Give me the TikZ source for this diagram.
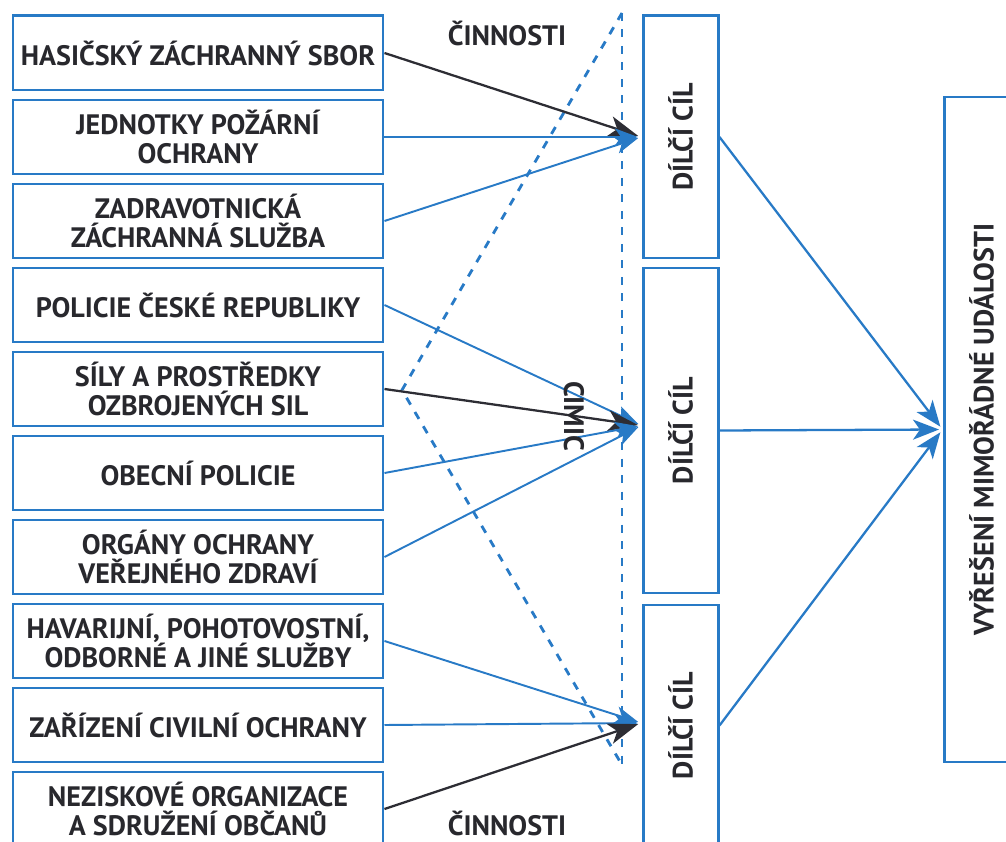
\documentclass[tikz,border=0pt]{standalone}
\usepackage{fontspec}
\setmainfont{PT Sans}
\usetikzlibrary{arrows.meta,positioning}
\definecolor{BoxBlue}{RGB}{40,122,198}
\definecolor{ArrDark}{RGB}{45,45,52}
\definecolor{TxtDark}{RGB}{40,40,45}
\begin{document}
\begin{tikzpicture}[
  org/.style={draw=BoxBlue,fill=white,line width=1.7pt,minimum width=7.4cm,minimum height=1.48cm,
              inner sep=0pt,align=center,text=TxtDark,font=\bfseries\fontsize{16}{16.5}\selectfont},
  goal/.style={draw=BoxBlue,fill=white,line width=1.7pt,minimum width=1.5cm,
               inner sep=0pt,text=TxtDark,font=\bfseries\fontsize{16}{16.5}\selectfont},
  lbl/.style={text=TxtDark,font=\bfseries\fontsize{16}{16.5}\selectfont},
  arr/.style={-{Stealth[length=0.46cm,width=0.34cm,inset=0.12cm]},line width=1.1pt,BoxBlue,shorten >=2pt},
  arrk/.style={-{Stealth[length=0.6cm,width=0.42cm,inset=0.16cm]},line width=1.3pt,ArrDark,shorten >=2pt},
  big/.style={-{Stealth[length=0.52cm,width=0.4cm,inset=0.14cm]},line width=1.3pt,BoxBlue,shorten >=2pt},
  guide/.style={BoxBlue,line width=1.6pt,dash pattern=on 0.16cm off 0.17cm},
]
\useasboundingbox (0,0) rectangle (20.12,-16.84);
\node[org] (hzs)  at (3.96,-1.06)  {HASIČSKÝ ZÁCHRANNÝ SBOR};
\node[org] (jpo)  at (3.96,-2.74)  {JEDNOTKY POŽÁRNÍ\\OCHRANY};
\node[org] (zzs)  at (3.96,-4.42)  {ZADRAVOTNICKÁ\\ZÁCHRANNÁ SLUŽBA};
\node[org] (pcr)  at (3.96,-6.10)  {POLICIE ČESKÉ REPUBLIKY};
\node[org] (ozb)  at (3.96,-7.78)  {SÍLY A PROSTŘEDKY\\OZBROJENÝCH SIL};
\node[org] (obp)  at (3.96,-9.46)  {OBECNÍ POLICIE};
\node[org] (oovz) at (3.96,-11.14) {ORGÁNY OCHRANY\\VEŘEJNÉHO ZDRAVÍ};
\node[org] (havs) at (3.96,-12.82) {HAVARIJNÍ, POHOTOVOSTNÍ,\\ODBORNÉ A JINÉ SLUŽBY};
\node[org] (zco)  at (3.96,-14.50) {ZAŘÍZENÍ CIVILNÍ OCHRANY};
\node[org] (nno)  at (3.96,-16.18) {NEZISKOVÉ ORGANIZACE\\A SDRUŽENÍ OBČANŮ};
\node[goal,minimum height=4.84cm] (cilA) at (13.61,-2.74)  {\rotatebox{90}{DÍLČÍ CÍL}};
\node[goal,minimum height=6.50cm] (cilB) at (13.61,-8.61)  {\rotatebox{90}{DÍLČÍ CÍL}};
\node[goal,minimum height=4.82cm] (cilC) at (13.61,-14.51) {\rotatebox{90}{DÍLČÍ CÍL}};
\node[goal,minimum height=13.3cm] (res)  at (19.63,-8.59)  {\rotatebox{90}{VYŘEŠENÍ MIMOŘÁDNÉ UDÁLOSTI}};
\coordinate (gtop) at (12.44,-0.26);
\coordinate (gmid) at (8.04,-7.80);
\coordinate (gbot) at (12.44,-15.30);
\draw[guide] (gtop) -- (gbot);
\draw[guide] (gtop) -- (gmid) -- (gbot);
\node[lbl] (cinA) at (10.14,-0.66)  {ČINNOSTI};
\node[lbl] (cinB) at (10.14,-16.46) {ČINNOSTI};
\draw[arrk] (hzs.east)  -- (cilA.west);
\draw[arr]  (jpo.east)  -- (cilA.west);
\draw[arr]  (zzs.east)  -- (cilA.west);
\draw[arr]  (pcr.east)  -- ([yshift=0.1cm]cilB.west);
\draw[arrk] (ozb.east)  -- ([yshift=0.1cm]cilB.west);
\draw[arr]  (obp.east)  -- ([yshift=0.1cm]cilB.west);
\draw[arr]  (oovz.east) -- ([yshift=0.1cm]cilB.west);
\draw[arr]  (havs.east) -- ([yshift=0.05cm]cilC.west);
\draw[arr]  (zco.east)  -- ([yshift=0.05cm]cilC.west);
\draw[arrk] (nno.east)  -- ([yshift=0.05cm]cilC.west);
\draw[big] (cilA.east) -- (res.west);
\draw[big] (cilB.east) -- (res.west);
\draw[big] (cilC.east) -- (res.west);
\node[lbl,rotate=-90] (cimic) at (11.48,-8.32) {CIMIC};
\end{tikzpicture}
\end{document}
